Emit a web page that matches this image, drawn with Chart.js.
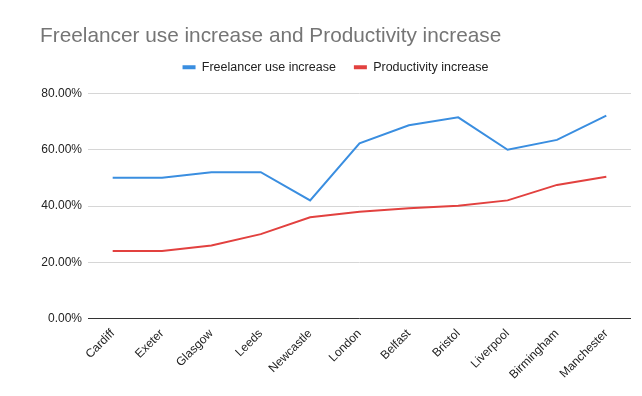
<!DOCTYPE html>
<html>
<head>
<meta charset="utf-8">
<script src="https://cdn.jsdelivr.net/npm/chart.js@4/dist/chart.umd.min.js"></script>
<style>
  html, body { margin: 0; padding: 0; background: #fff; }
  #wrap { width: 642px; height: 396px; }
</style>
</head>
<body>
<div id="wrap"><canvas id="c" width="642" height="396"></canvas></div>
<script>
const categories = ["Cardiff", "Exeter", "Glasgow", "Leeds", "Newcastle", "London", "Belfast", "Bristol", "Liverpool", "Birmingham", "Manchester"];
const freelancerUse = [50, 50, 52, 52, 42, 62.3, 68.7, 71.5, 60, 63.5, 72.1];
const productivity = [24, 24, 26, 30, 36, 38, 39.2, 40.1, 42, 47.5, 50.4];
const yTicks = [0, 20, 40, 60, 80];

const FONT = "'Liberation Sans', Arial, sans-serif";

const legendGap = {
  id: 'legendGap',
  beforeLayout(chart) {
    const lg = chart.legend;
    if (lg && !lg._patched) {
      const origFit = lg.fit;
      lg.fit = function () { origFit.call(this); this.height += 2; };
      const origDraw = lg.draw;
      lg.draw = function () {
        const ctx = this.ctx;
        ctx.save();
        ctx.translate(0, -8);
        origDraw.call(this);
        ctx.restore();
      };
      lg._patched = true;
    }
  }
};

new Chart(document.getElementById('c'), {
  type: 'line',
  data: {
    labels: categories,
    datasets: [
      { label: 'Freelancer use increase', data: freelancerUse, borderColor: '#3a8ee0', backgroundColor: '#3a8ee0', borderWidth: 2, pointRadius: 0, tension: 0 },
      { label: 'Productivity increase', data: productivity, borderColor: '#e2413f', backgroundColor: '#e2413f', borderWidth: 2, pointRadius: 0, tension: 0 }
    ]
  },
  plugins: [legendGap],
  options: {
    responsive: false,
    animation: false,
    layout: { padding: { top: 0, left: 40, right: 11, bottom: 6 } },
    plugins: {
      title: {
        display: true,
        text: 'Freelancer use increase and Productivity increase',
        align: 'start',
        color: '#757575',
        font: { family: FONT, size: 20.8, weight: 'normal' },
        padding: { top: 24, bottom: 2 }
      },
      legend: {
        display: true,
        labels: {
          color: '#222',
          font: { family: FONT, size: 12.5 },
          boxWidth: 13,
          boxHeight: 4,
          padding: 18,
          generateLabels(chart) {
            const items = Chart.defaults.plugins.legend.labels.generateLabels(chart);
            items.forEach(i => { i.lineWidth = 0; i.strokeStyle = 'rgba(0,0,0,0)'; });
            return items;
          }
        }
      },
      tooltip: { enabled: false }
    },
    scales: {
      x: {
        offset: true,
        grid: { display: false, drawTicks: false },
        border: { display: false },
        ticks: { color: '#222', font: { family: FONT, size: 12 }, minRotation: 45, maxRotation: 45, padding: 8, autoSkip: false }
      },
      y: {
        min: 0, max: 80,
        afterBuildTicks(axis) { axis.ticks = yTicks.map(v => ({ value: v })); },
        afterFit(axis) { axis.width = 48; },
        grid: {
          drawTicks: false,
          color: (ctx) => ctx.tick && ctx.tick.value === 0 ? '#333' : '#d6d6d6',
          lineWidth: 1
        },
        border: { display: false },
        ticks: { color: '#222', font: { family: FONT, size: 12 }, padding: 6, callback: (v) => Number(v).toFixed(2) + '%' }
      }
    }
  }
});
</script>
</body>
</html>
